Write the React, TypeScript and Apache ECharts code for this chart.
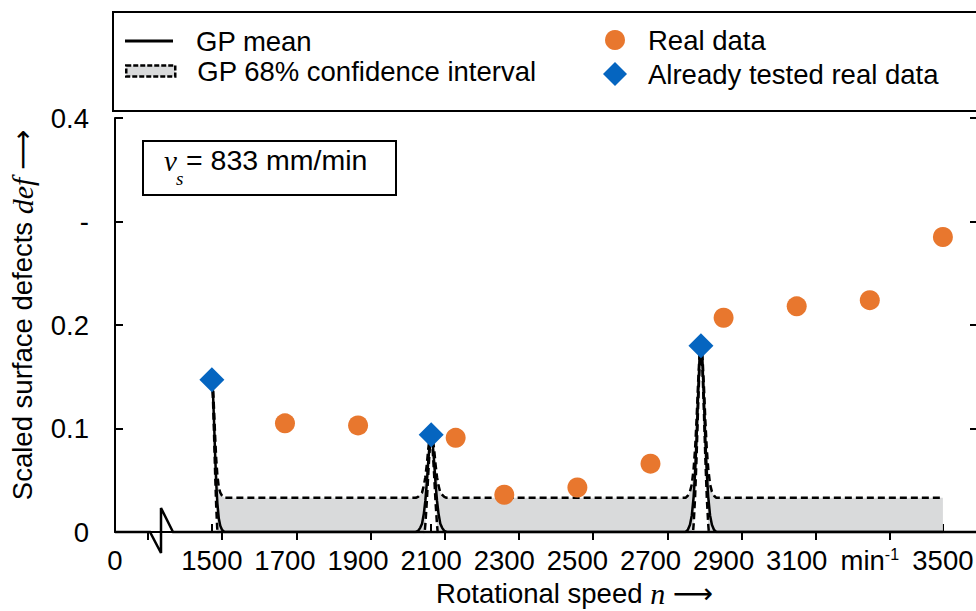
import React, { useEffect, useRef } from 'react';
import * as echarts from 'echarts';

// ---- data ----
const realX = [1700, 1900, 2167, 2300, 2500, 2700, 2900, 3100, 3300, 3500];
const realY = [0.105, 0.103, 0.091, 0.036, 0.043, 0.066, 0.207, 0.218, 0.224, 0.285];
const testedX = [1500, 2100, 2838];
const testedY = [0.147, 0.094, 0.18];

const gpX = [
  1500, 1503, 1506, 1509, 1512, 1515, 1519, 1523, 1528, 1534,
  1800, 2058,
  2064, 2070, 2075, 2080, 2084, 2088, 2092, 2096, 2100, 2104, 2108, 2112, 2116, 2120, 2125, 2130, 2136, 2142,
  2500, 2796,
  2802, 2808, 2813, 2818, 2822, 2826, 2830, 2834, 2838, 2842, 2846, 2850, 2854, 2858, 2863, 2868, 2874, 2880,
  3200, 3500,
];
const gpMean = [
  0.147, 0.135, 0.106, 0.074, 0.047, 0.028, 0.013, 0.006, 0.002, 0,
  0, 0,
  0.001, 0.004, 0.008, 0.018, 0.03, 0.047, 0.068, 0.086, 0.094, 0.086, 0.068, 0.047, 0.03, 0.018, 0.008, 0.004, 0.001, 0,
  0, 0,
  0.002, 0.007, 0.016, 0.034, 0.057, 0.09, 0.13, 0.165, 0.18, 0.165, 0.13, 0.09, 0.057, 0.034, 0.016, 0.007, 0.002, 0,
  0, 0,
];
const gpUpper = [
  0.147, 0.141, 0.118, 0.092, 0.07, 0.055, 0.043, 0.038, 0.035, 0.033,
  0.033, 0.033,
  0.034, 0.036, 0.038, 0.045, 0.053, 0.065, 0.08, 0.092, 0.094, 0.092, 0.08, 0.065, 0.053, 0.045, 0.038, 0.036, 0.034, 0.033,
  0.033, 0.033,
  0.035, 0.039, 0.046, 0.061, 0.08, 0.108, 0.142, 0.171, 0.18, 0.171, 0.142, 0.108, 0.08, 0.061, 0.046, 0.039, 0.035, 0.033,
  0.033, 0.033,
];
const gpLower = [
  0.147, 0.129, 0.094, 0.056, 0.024, 0.001, -0.017, -0.026, -0.031, -0.033,
  -0.033, -0.033,
  -0.032, -0.028, -0.022, -0.009, 0.007, 0.029, 0.056, 0.08, 0.094, 0.08, 0.056, 0.029, 0.007, -0.009, -0.022, -0.028, -0.032, -0.033,
  -0.033, -0.033,
  -0.031, -0.025, -0.014, 0.007, 0.034, 0.072, 0.118, 0.159, 0.18, 0.159, 0.118, 0.072, 0.034, 0.007, -0.014, -0.025, -0.031, -0.033,
  -0.033, -0.033,
];

const xTicks = [1500, 1700, 1900, 2100, 2300, 2500, 2700, 2900, 3100, 3300, 3500];
const X_MIN = 1235;
const X_MAX = 3596;
const xLabelValues = [X_MIN, ...xTicks];
const topTicks = [1, 2, 3, 4, 5, 6, 7, 8, 9, 10, 11];
const yTickLabels = ['0', '0.1', '0.2', '-', '0.4'];

const FONT = '"Liberation Sans", Arial, Helvetica, sans-serif';
const SERIF = '"Liberation Serif", "Times New Roman", serif';
const FS = 27.5;
const ORANGE = '#e8772e';
const BLUE = '#0565c0';
const GRAY = '#d9dadb';

const zip = (xs: number[], ys: number[]) => xs.map((x, i) => [x, ys[i]]);

function buildOption(): any {
  const black = '#000';
  const tickStyle = { color: black, width: 2 };
  const legendText = (pad: number) => ({ fontSize: FS, color: black, fontFamily: FONT, padding: [0, 0, 0, pad] });
  return {
    animation: false,
    textStyle: { fontFamily: FONT },
    grid: { left: 115, right: -2, top: 118, bottom: 79, outerBoundsMode: 'none', containLabel: false },
    legend: [
      {
        left: 125, top: 27, padding: 0, itemWidth: 48, itemHeight: 3, selectedMode: false,
        data: [{ name: 'GP mean', icon: 'rect', itemStyle: { color: black, borderWidth: 0 } }],
        textStyle: legendText(18),
      },
      {
        left: 125, top: 57, padding: 0, itemWidth: 49, itemHeight: 11, selectedMode: false,
        data: [{
          name: 'GP 68% confidence interval', icon: 'rect',
          itemStyle: { color: GRAY, borderColor: black, borderWidth: 2.5, borderType: [5, 2] },
        }],
        textStyle: legendText(17),
      },
      {
        left: 605, top: 26, padding: 0, itemWidth: 20, itemHeight: 20, selectedMode: false,
        data: ['Real data'],
        textStyle: legendText(18),
      },
      {
        left: 603, top: 60, padding: 0, itemWidth: 24, itemHeight: 24, selectedMode: false,
        data: ['Already tested real data'],
        textStyle: legendText(16),
      },
    ],
    xAxis: [
      {
        type: 'value', position: 'bottom', min: X_MIN, max: X_MAX,
        splitLine: { show: false },
        axisLine: { show: false },
        axisTick: { show: true, inside: true, length: 8, customValues: xTicks, lineStyle: tickStyle },
        axisLabel: {
          customValues: xLabelValues, margin: 14, fontSize: FS, color: black, fontFamily: FONT,
          formatter: (v: number) => (v === X_MIN ? '0' : v === 3300 ? 'min{sup|-1}' : String(v)),
          rich: { sup: { fontSize: 16, verticalAlign: 'top', color: black, fontFamily: FONT } },
        },
        name: 'Rotational speed {i|n} {a|⟶}', nameLocation: 'middle', nameGap: 42,
        nameTextStyle: {
          fontSize: FS, color: black, fontFamily: FONT, padding: [0, 0, 0, 56],
          rich: {
            i: { fontFamily: SERIF, fontStyle: 'italic', fontSize: 30, color: black },
            a: { fontFamily: '"DejaVu Sans"', fontSize: 28, color: black },
          },
        },
      },
      {
        type: 'value', position: 'top', min: 0.555, max: 12.186,
        splitLine: { show: false },
        axisLine: { show: true, lineStyle: { color: black, width: 2 } },
        axisTick: { show: true, inside: true, length: 8, customValues: topTicks, lineStyle: tickStyle },
        axisLabel: { show: false },
      },
    ],
    yAxis: [
      {
        type: 'value', position: 'left', min: 0, max: 0.4, interval: 0.1,
        splitLine: { show: false },
        axisLine: { show: true, lineStyle: { color: black, width: 2 } },
        axisTick: { show: true, inside: true, length: 8, lineStyle: tickStyle },
        axisLabel: {
          margin: 26, fontSize: FS, color: black, fontFamily: FONT,
          formatter: (v: number) => yTickLabels[Math.round(v * 10)] ?? '',
        },
        name: 'Scaled surface defects {i|def} {a|⟶}', nameLocation: 'middle', nameRotate: 90, nameGap: 78,
        nameTextStyle: {
          fontSize: FS, color: black, fontFamily: FONT, padding: [0, 0, 0, 20],
          rich: {
            i: { fontFamily: SERIF, fontStyle: 'italic', fontSize: 30, color: black },
            a: { fontFamily: '"DejaVu Sans"', fontSize: 28, color: black },
          },
        },
      },
      {
        type: 'value', position: 'right', min: 0, max: 0.4, interval: 0.1,
        splitLine: { show: false },
        axisLine: { show: true, lineStyle: { color: black, width: 2 } },
        axisTick: { show: true, inside: true, length: 8, lineStyle: tickStyle },
        axisLabel: { show: false },
      },
    ],
    series: [
      {
        name: 'GP 68% confidence interval', type: 'custom', silent: true, clip: true, z: 1,
        data: [[gpX[0], gpUpper[0]]],
        encode: { x: 0, y: 1 },
        itemStyle: { color: GRAY },
        renderItem: (_params: any, api: any) => {
          const pts: number[][] = gpX.map((x, i) => api.coord([x, gpUpper[i]]));
          for (let i = gpX.length - 1; i >= 0; i--) pts.push(api.coord([gpX[i], Math.max(gpLower[i], 0)]));
          return { type: 'polygon', shape: { points: pts }, style: { fill: GRAY, stroke: null } };
        },
      },
      {
        name: 'ciUpper', type: 'line', symbol: 'none', silent: true, data: zip(gpX, gpUpper),
        lineStyle: { color: black, width: 2.5, type: [7, 4] }, z: 3,
      },
      {
        name: 'ciLower', type: 'line', symbol: 'none', silent: true, data: zip(gpX, gpLower),
        lineStyle: { color: black, width: 2.5, type: [7, 4] }, z: 3,
      },
      {
        name: 'GP mean', type: 'line', symbol: 'none', silent: true, data: zip(gpX, gpMean),
        lineStyle: { color: black, width: 2.5 }, itemStyle: { color: black }, z: 4,
      },
      {
        name: 'Real data', type: 'scatter', symbol: 'circle', symbolSize: 20,
        data: zip(realX, realY), itemStyle: { color: ORANGE, opacity: 1 }, z: 5,
      },
      {
        name: 'Already tested real data', type: 'scatter', symbol: 'diamond', symbolSize: 25,
        data: zip(testedX, testedY), itemStyle: { color: BLUE, opacity: 1 }, z: 6,
      },
    ],
    graphic: [
      {
        type: 'rect', z: 0, shape: { x: 113, y: 12, width: 900, height: 99 },
        style: { fill: '#fff', stroke: black, lineWidth: 2 },
      },
      {
        type: 'polyline', z: 100,
        shape: { points: [[115, 532], [150, 532], [161, 553], [161, 508], [173, 532], [980, 532]] },
        style: { fill: null, stroke: black, lineWidth: 2.5 },
      },
      {
        type: 'rect', z: 50, shape: { x: 143, y: 141, width: 253, height: 54 },
        style: { fill: '#fff', stroke: black, lineWidth: 2 },
      },
      {
        type: 'text', z: 51, x: 164, y: 161,
        style: { text: 'v', fontFamily: SERIF, fontStyle: 'italic', fontSize: 29, fill: black, verticalAlign: 'middle' },
      },
      {
        type: 'text', z: 51, x: 176, y: 178,
        style: { text: 's', fontFamily: SERIF, fontStyle: 'italic', fontSize: 19, fill: black, verticalAlign: 'middle' },
      },
      {
        type: 'text', z: 51, x: 186, y: 160,
        style: { text: '= 833 mm/min', fontFamily: FONT, fontSize: 28.5, fill: black, verticalAlign: 'middle' },
      },
    ],
  };
}

export default function App() {
  const ref = useRef<HTMLDivElement>(null);
  useEffect(() => {
    if (!ref.current) return;
    const chart = echarts.init(ref.current, null, { renderer: 'svg' });
    chart.setOption(buildOption());
    return () => chart.dispose();
  }, []);
  return (
    <div
      ref={ref}
      style={{ position: 'fixed', left: 0, top: 0, width: 976, height: 611, background: '#fff' }}
    />
  );
}
